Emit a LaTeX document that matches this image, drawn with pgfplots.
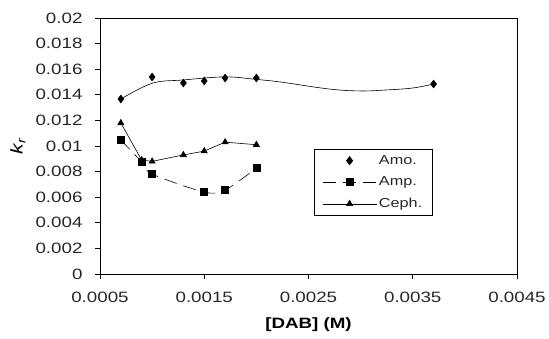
\documentclass[border=0pt]{standalone}
\usepackage{pgfplots}
\pgfplotsset{compat=1.18}
\usepackage{fontspec}
\setmainfont{Liberation Sans}[FakeStretch=1.25]
\begin{document}
\begin{tikzpicture}
\useasboundingbox (-100pt,-65pt) rectangle (449pt,274pt);
\begin{axis}[
 scale only axis, width=417pt, height=256pt,
 xmin=0.0005, xmax=0.0045, ymin=0, ymax=0.02,
 xtick={0.0005,0.0015,0.0025,0.0035,0.0045},
 xticklabels={0.0005,0.0015,0.0025,0.0035,0.0045},
 ytick={0,0.002,0.004,0.006,0.008,0.01,0.012,0.014,0.016,0.018,0.02},
 yticklabels={0,0.002,0.004,0.006,0.008,0.01,0.012,0.014,0.016,0.018,0.02},
 scaled ticks=false,
 tick align=outside, major tick length=5pt,
 xtick pos=bottom, ytick pos=left,
 tick style={black, line width=0.6pt},
 axis line style={line width=0.6pt},
 ticklabel style={font=\fontsize{15}{17}\selectfont, text=black!85},
 yticklabel style={xshift=-9pt},
 xticklabel style={yshift=-9pt},
 xlabel={\bfseries [DAB] (M)},
 xlabel style={at={(axis description cs:0.5,0)}, anchor=center, yshift=-51pt, font=\fontsize{15}{17}\selectfont},
 ylabel={\itshape k\textsubscript{r}},
 ylabel style={at={(axis description cs:-0.197,0.5)}, anchor=center, font=\fontsize{17}{19}\selectfont},
 legend style={at={(axis description cs:0.513,0.488)}, anchor=north west, draw=black, line width=0.8pt,
   font=\fontsize{13}{15}\selectfont, inner xsep=8pt, inner ysep=4pt, row sep=7pt, text=black!85},
 legend cell align=left,
 legend image code/.code={\draw[mark repeat=2,mark phase=2,#1] plot coordinates {(0pt,0pt) (27pt,0pt) (54pt,0pt)};},
]
% Amo. trendline
\addplot[black, line width=0.6pt, smooth, tension=0.6, forget plot] coordinates {
(0.0007,0.01367) (0.001,0.0149) (0.0013,0.01516) (0.0017,0.0154) (0.002,0.0152)
(0.00223,0.0150) (0.0027,0.01445) (0.003,0.0143) (0.00325,0.01438) (0.0035,0.01453) (0.0037,0.01484)};
\addplot[black, only marks, mark=diamond*, mark size=4pt] coordinates {
(0.0007,0.01367) (0.001,0.01539) (0.0013,0.01492) (0.0015,0.01508) (0.0017,0.01531) (0.002,0.01531) (0.0037,0.01484)};
\addlegendentry{Amo.}
\addplot[black, line width=0.6pt, smooth, tension=0.5, dash pattern=on 13pt off 7pt, mark=square*, mark size=3.5pt, mark options={solid}] coordinates {
(0.0007,0.01047) (0.0009,0.00875) (0.001,0.00781) (0.0015,0.0064) (0.0017,0.00656) (0.002,0.00828)};
\addlegendentry{Amp.}
\addplot[black, line width=0.6pt, mark=triangle*, mark size=3.5pt] coordinates {
(0.0007,0.0118) (0.0009,0.0089) (0.001,0.0088) (0.0013,0.0093) (0.0015,0.0096) (0.0017,0.0103) (0.002,0.0101)};
\addlegendentry{Ceph.}
\end{axis}
\end{tikzpicture}
\end{document}
